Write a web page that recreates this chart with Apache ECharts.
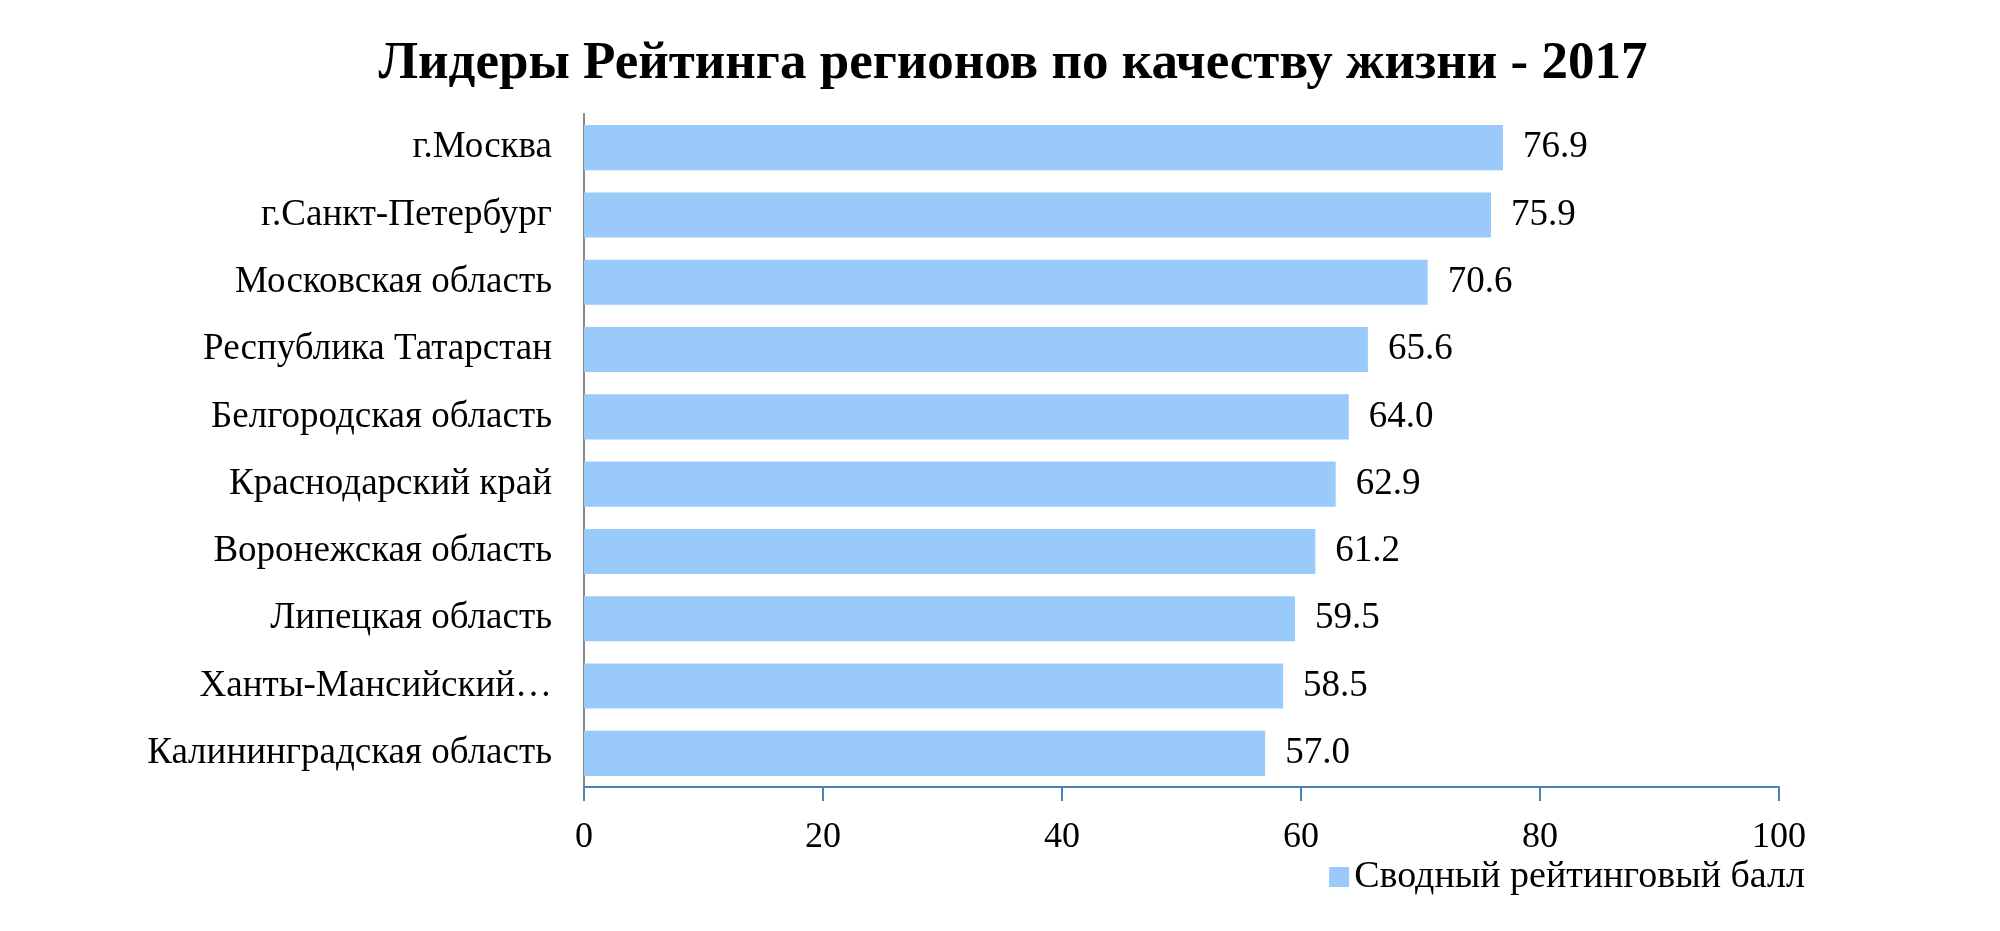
<!DOCTYPE html>
<html><head><meta charset="utf-8">
<script src="https://cdn.jsdelivr.net/npm/echarts@6/dist/echarts.min.js"></script>
<style>html,body{margin:0;padding:0;background:#fff}#c{width:2000px;height:931px}</style>
</head><body><div id="c"></div>
<script>
const titleText = 'Лидеры Рейтинга регионов по качеству жизни - 2017';
const seriesName = 'Сводный рейтинговый балл';
const regions = ['г.Москва','г.Санкт-Петербург','Московская область','Республика Татарстан','Белгородская область','Краснодарский край','Воронежская область','Липецкая область','Ханты-Мансийский…','Калининградская область'];
const scores = [76.9,75.9,70.6,65.6,64.0,62.9,61.2,59.5,58.5,57.0];
const xTicks = [0,20,40,60,80,100];

const font = '"Liberation Serif","DejaVu Serif",serif';
const chart = echarts.init(document.getElementById('c'));
chart.setOption({
  animation:false,
  title:{text:titleText,left:1008,top:33,textAlign:'center',
    textStyle:{fontFamily:font,fontWeight:'bold',fontSize:53,color:'#000'}},
  legend:{right:190,top:853,itemWidth:20,itemHeight:20,icon:'rect',itemGap:10,
    textStyle:{fontFamily:font,fontSize:38,color:'#000'},data:[seriesName]},
  grid:{left:584,right:221,top:114,bottom:144,containLabel:false},
  xAxis:{type:'value',min:xTicks[0],max:xTicks[xTicks.length-1],interval:20,
    axisLine:{show:true,lineStyle:{color:'#4f81bd',width:2}},
    axisTick:{show:true,inside:false,length:14,lineStyle:{color:'#4f81bd',width:2}},
    splitLine:{show:false},
    axisLabel:{fontFamily:font,fontSize:36,color:'#000',margin:33}},
  yAxis:{type:'category',inverse:true,data:regions,
    axisLine:{show:true,lineStyle:{color:'#888',width:2}},
    axisTick:{show:false},
    axisLabel:{fontFamily:font,fontSize:37,color:'#000',margin:32}},
  series:[{name:seriesName,type:'bar',data:scores,barCategoryGap:'33%',
    itemStyle:{color:'#99cafa'},
    label:{show:true,position:'right',distance:20,fontFamily:font,fontSize:37,color:'#000',
      formatter:p=>p.value.toFixed(1)}}]
});
</script></body></html>
